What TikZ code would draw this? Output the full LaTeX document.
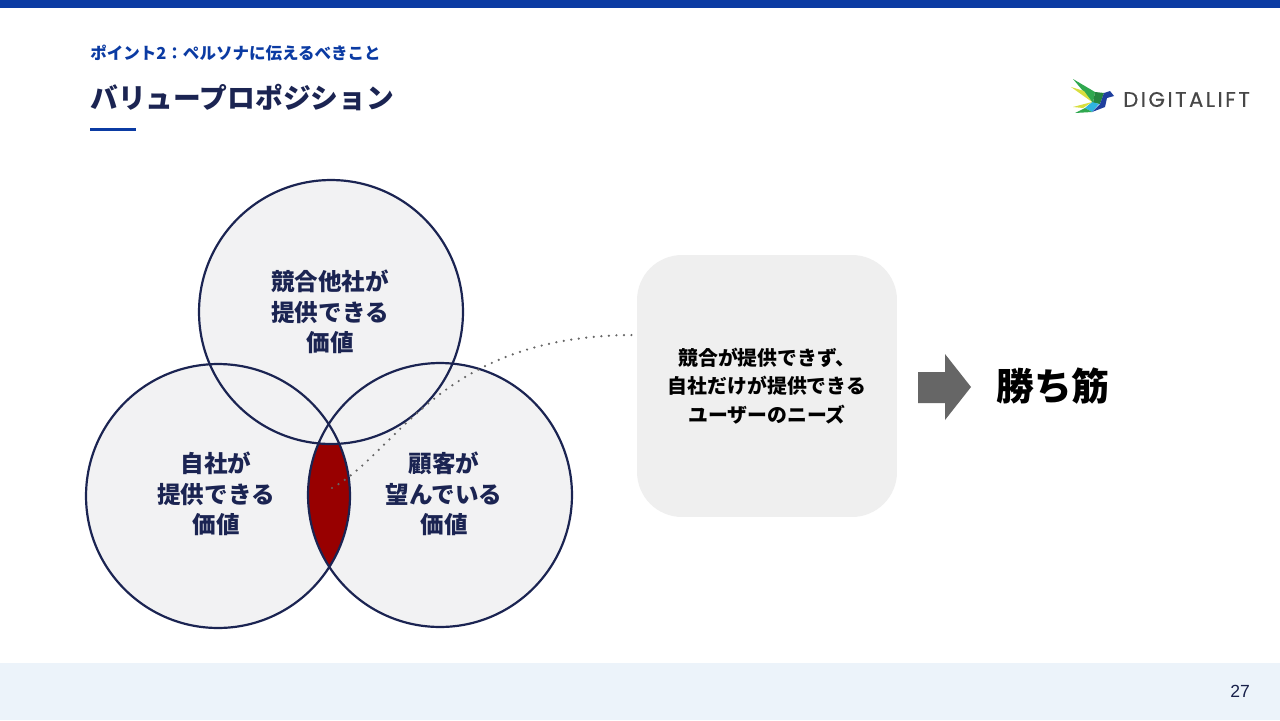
\documentclass[tikz,border=0pt]{standalone}
\usepackage{fontspec}
\usepackage{xcolor}
\setmainfont{Liberation Sans}
\newfontfamily\cjk{Noto Sans CJK JP}
\newfontfamily\logofont[LetterSpace=12,FakeBold=0.4]{Poppins}
\usetikzlibrary{positioning}
\definecolor{barblue}{HTML}{0B3BA3}
\definecolor{navy}{HTML}{1B2452}
\definecolor{bandblue}{HTML}{ECF3FA}
\definecolor{circlegrey}{HTML}{F2F2F3}
\definecolor{boxgrey}{HTML}{EFEFEF}
\definecolor{lensred}{HTML}{980000}
\definecolor{arrowgrey}{HTML}{666666}
\definecolor{birdgreen}{HTML}{2FA84F}
\definecolor{birdyellow}{HTML}{D8DE3E}
\definecolor{birdcyan}{HTML}{2FB4E0}
\definecolor{birdblue}{HTML}{1F3F9E}

\tikzset{
  valuecircle/.style={circle, fill=circlegrey, inner sep=0pt, minimum size=5.28cm},
  valuetext/.style={font=\cjk\bfseries\fontsize{13.4}{17.3}\selectfont, text=navy, align=center},
  circleline/.style={navy, line width=1.25pt},
}

\begin{document}
\begin{tikzpicture}[x=0.02cm, y=-0.02cm]
        \useasboundingbox (0,0) rectangle (1280,720);
        \fill[white] (0,0) rectangle (1280,720);

        % Top bar and bottom band
        \fill[barblue] (0,0) rectangle (1280,8);
        \fill[bandblue] (0,663) rectangle (1280,720);
        \node[text=navy!90!black, font=\fontsize{10}{12}\selectfont] (page) at (1240,691) {27};

        % Heading
        \node[anchor=west, inner sep=0pt, text=barblue, font=\cjk\bfseries\fontsize{9.4}{12}\selectfont] (sub) at (90,53) {ポイント2：ペルソナに伝えるべきこと};
        \node[anchor=west, inner sep=0pt, text=navy, font=\cjk\bfseries\fontsize{15.8}{18}\selectfont] (title) at (90,98) {バリュープロポジション};
        \fill[barblue] (90,127.5) rectangle (136,130.5);

        % Logo
        \fill[birdgreen] (1073,79) -- (1095,92) -- (1093,103) -- cycle;
        \fill[birdyellow] (1071,87) -- (1084,91) -- (1092,102) -- cycle;
        \fill[birdgreen!80!black] (1095,92) -- (1104,93) -- (1100,104) -- (1093,103) -- cycle;
        \fill[birdcyan] (1092,102) -- (1099,104) -- (1092,112) -- (1085,108) -- cycle;
        \fill[birdyellow] (1073,107) -- (1092,102) -- (1083,108) -- cycle;
        \fill[birdgreen] (1075,113) -- (1085,108) -- (1092,112) -- cycle;
        \fill[birdblue] (1104,93) -- (1110,91) -- (1114,96) -- (1107,98) -- (1105,107) -- (1092,112) -- (1100,104) -- cycle;
        \node[anchor=west, inner sep=0pt, text=black!72, font=\logofont\fontsize{12}{14}\selectfont] (logo) at (1123,99.5) {DIGITALIFT};

        % Circle fills
        \node[valuecircle] (rival) at (331,312) {};
        \node[valuecircle] (self) at (218,496) {};
        \node[valuecircle] (customer) at (440,495) {};

        % Red lens
        \begin{scope}
          \clip (self.center) circle (2.64cm);
          \clip (customer.center) circle (2.64cm);
          \fill[lensred] (self.center) circle (2.64cm);
          \fill[circlegrey] (rival.center) circle (2.64cm);
        \end{scope}

        % Circle outlines
        \draw[circleline] (rival.center) circle (2.64cm);
        \draw[circleline] (self.center) circle (2.64cm);
        \draw[circleline] (customer.center) circle (2.64cm);

        % Circle labels
        \node[valuetext] (rivaltext) at (330,312) {競合他社が\\提供できる\\価値};
        \node[valuetext] (selftext) at (216,494) {自社が\\提供できる\\価値};
        \node[valuetext] (customertext) at (444,494) {顧客が\\望んでいる\\価値};

        % Result box
        \node[fill=boxgrey, rounded corners=0.9cm, minimum width=5.2cm, minimum height=5.24cm, align=center, font=\cjk\bfseries\fontsize{11.3}{16.4}\selectfont] (needs) at (767,386) {競合が提供できず、\\自社だけが提供できる\\ユーザーのニーズ};

        % Dotted leader
        \coordinate (lensspot) at (332,488);
        \coordinate (needsend) at (635,335);
        \draw[arrowgrey, line width=1.4pt, line cap=round, dash pattern=on 0pt off 4.3pt] (lensspot) .. controls (400,450) and (440,335) .. (needsend);

        % Arrow and result
        \fill[arrowgrey] (918,372) -- (945,372) -- (945,354) -- (971,387) -- (945,420) -- (945,403) -- (918,403) -- cycle;
        \node[font=\cjk\bfseries\fontsize{21.5}{24}\selectfont] (win) at (1053,386) {勝ち筋};
\end{tikzpicture}
\end{document}
